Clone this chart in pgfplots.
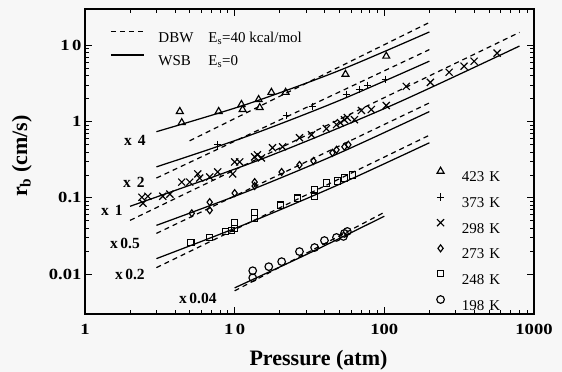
\documentclass[border=0pt]{standalone}
\usepackage{fontspec}
\setmainfont{Liberation Serif}
\newfontfamily\tickfont{Liberation Serif}[FakeStretch=1.2]
\usepackage{pgfplots}
\pgfplotsset{compat=1.18}
\definecolor{bg}{RGB}{247,247,247}
\pgfplotsset{
  ptlegend/.style={legend image code/.code={\draw[##1] plot coordinates {(0bp,5bp)};}},
  lnlegend/.style={legend image code/.code={\draw[##1] (0bp,5bp) -- (33bp,5bp);}},
  wsb/.style={line width=1.25bp, smooth, forget plot},
  dbw/.style={line width=1.2bp, dash pattern=on 5bp off 4bp, forget plot},
}
\begin{document}
\begin{tikzpicture}
\fill[bg] (-85bp,-58bp) rectangle (477bp,314bp);
\path[use as bounding box] (-85bp,-58bp) rectangle (477bp,314bp);
\begin{axis}[
  at={(0,0)}, anchor=south west,
  scale only axis, width=449bp, height=305bp,
  xmode=log, ymode=log,
  xmin=1, xmax=1000, ymin=0.003, ymax=30,
  xtick={1,10,100,1000}, xticklabels={1,1\,0,100,1000},
  ytick={0.01,0.1,1,10}, yticklabels={0.01,0.1,1,1\,0},
  /pgf/number format/assume math mode=true,
  tick label style={font=\tickfont\bfseries\fontsize{15.5bp}{18bp}\selectfont},
  xticklabel style={yshift=-7bp},
  major tick length=7bp, minor tick length=4bp,
  every tick/.style={black, line width=0.8bp},
  axis line style={line width=1.4bp},
  xlabel={Pressure (atm)}, ylabel={r\textsubscript{b} (cm/s)},
  label style={font=\bfseries\fontsize{22bp}{26bp}\selectfont},
  xlabel style={at={(axis description cs:0.52,0)}, anchor=base, yshift=-51bp},
  ylabel style={at={(axis description cs:-0.129,0.518)}, anchor=base},
  legend cell align=left,
  legend style={draw=none, fill=none, inner sep=0pt, at={(0.783,0.482)}, anchor=north west,
    nodes={inner sep=0pt, text height=11bp, text depth=0bp, font=\fontsize{15bp}{18bp}\selectfont},
    row sep=11.6bp, column sep=17.6bp},
]
% WSB (solid)
\addplot[wsb] coordinates {(3,0.738) (12.16,1.70) (49.3,4.63) (200,15.0)};
\addplot[wsb] coordinates {(3,0.255) (12.16,0.644) (49.3,1.87) (200,6.21)};
\addplot[wsb] coordinates {(2,0.0776) (14.7,0.316) (108.6,1.59) (800,9.80)};
\addplot[wsb] coordinates {(3,0.0436) (12.16,0.1216) (49.3,0.382) (200,1.355)};
\addplot[wsb] coordinates {(3,0.01596) (12.16,0.0463) (49.3,0.1486) (200,0.528)};
\addplot[wsb] coordinates {(10,0.00661) (31.6,0.0189) (100,0.0575)};
% DBW (dashed)
\addplot[dbw] coordinates {(5,0.56) (200,20.0)};
\addplot[dbw] coordinates {(3,0.182) (200,8.80)};
\addplot[dbw] coordinates {(2,0.0507) (800,14.8)};
\addplot[dbw] coordinates {(3,0.0342) (200,1.76)};
\addplot[dbw] coordinates {(3,0.01216) (200,0.664)};
\addplot[dbw] coordinates {(10,0.00604) (100,0.0647)};
% data
\addplot[only marks, mark=triangle, mark size=4bp, mark options={line width=1.15bp}, ptlegend] coordinates {
(4.30,1.36) (4.43,0.97) (7.82,1.36) (11.1,1.68) (11.3,1.44) (14.45,1.95) (14.7,1.53) (17.6,2.42) (21.9,2.42) (55.0,4.18) (103,7.22)};
\addlegendentry{423\hspace{5bp}K}
\addplot[only marks, mark=+, mark size=3.8bp, mark options={line width=1.15bp}, ptlegend] coordinates {
(7.7,0.497) (22.2,1.20) (33.1,1.58) (55.8,2.27) (68.1,2.65) (77.0,2.99) (101.6,3.59)};
\addlegendentry{373\hspace{5bp}K}
\addplot[only marks, mark=x, mark size=5bp, mark options={line width=1.15bp}, ptlegend] coordinates {
(2.40,0.102) (2.44,0.0851) (2.63,0.105) (3.31,0.105) (3.69,0.112) (4.43,0.161) (5.01,0.161) (5.67,0.206) (5.84,0.182) (6.81,0.188) (7.70,0.219) (9.70,0.206) (10.0,0.296) (10.8,0.296) (13.6,0.345) (14.2,0.367) (15.1,0.334) (17.9,0.454) (20.9,0.468) (27.1,0.615) (32.6,0.673) (41.0,0.808) (47.9,0.913) (50.9,0.970) (54.1,1.06) (56.6,1.13) (63.1,1.06) (70.3,1.40) (81.9,1.44) (103,1.63) (140,2.90) (203,3.27) (271,4.44) (341,5.33) (398,6.20) (567,7.91)};
\addlegendentry{298\hspace{5bp}K}
\addplot[only marks, mark=diamond, mark size=3.5bp, mark options={line width=1.15bp}, ptlegend] coordinates {
(5.17,0.0628) (6.81,0.0878) (6.81,0.0688) (10.0,0.1154) (13.6,0.161) (13.6,0.143) (20.6,0.2185) (27.1,0.270) (33.6,0.305) (45.0,0.390) (47.9,0.427) (54.1,0.468) (57.5,0.497)};
\addlegendentry{273\hspace{5bp}K}
\addplot[only marks, mark=square, mark size=3.2bp, mark options={line width=1.15bp}, ptlegend] coordinates {
(5.09,0.0260) (6.81,0.0303) (8.71,0.0363) (9.55,0.0374) (10.0,0.0478) (10.0,0.0398) (13.6,0.0647) (13.6,0.0539) (20.3,0.0801) (26.3,0.0991) (34.2,0.1264) (34.2,0.1053) (41.0,0.1564) (48.6,0.1663) (54.1,0.182) (61.2,0.1995)};
\addlegendentry{248\hspace{5bp}K}
\addplot[only marks, mark=o, mark size=3.8bp, mark options={line width=1.15bp}, ptlegend] coordinates {
(13.2,0.01109) (13.2,0.00896) (16.9,0.01253) (20.6,0.01459) (27.1,0.01977) (34.2,0.02233) (39.8,0.0276) (47.9,0.0303) (53.3,0.0312) (54.1,0.0342) (56.6,0.0363)};
\addlegendentry{198\hspace{5bp}K}
% scale factor labels
\node[font=\bfseries\fontsize{15.5bp}{18bp}\selectfont] at (axis cs:2.154,0.561) {x\hspace{6bp}4};
\node[font=\bfseries\fontsize{15.5bp}{18bp}\selectfont] at (axis cs:2.12,0.161) {x\hspace{6bp}2};
\node[font=\bfseries\fontsize{15.5bp}{18bp}\selectfont] at (axis cs:1.513,0.0688) {x\hspace{6bp}1};
\node[font=\bfseries\fontsize{15.5bp}{18bp}\selectfont] at (axis cs:1.848,0.0252) {x\,0.5};
\node[font=\bfseries\fontsize{15.5bp}{18bp}\selectfont] at (axis cs:1.995,0.00982) {x\,0.2};
\node[font=\bfseries\fontsize{15.5bp}{18bp}\selectfont] at (axis cs:5.67,0.00473) {x\,0.04};
\end{axis}
\begin{axis}[
  at={(0,0)}, anchor=south west,
  scale only axis, width=449bp, height=305bp,
  hide axis, xmin=0, xmax=1, ymin=0, ymax=1,
  legend cell align=left,
  legend style={draw=none, fill=none, inner sep=0pt, at={(0.0557,0.928)}, anchor=north west,
    nodes={inner sep=0pt, text height=11bp, text depth=0bp, font=\fontsize{15bp}{18bp}\selectfont},
    row sep=12bp, column sep=14bp},
]
\addlegendimage{line width=1.2bp, dash pattern=on 5bp off 4bp, lnlegend}
\addlegendentry{\makebox[50bp][l]{DBW}E\textsubscript{s}=40 kcal/mol}
\addlegendimage{line width=1.25bp, lnlegend}
\addlegendentry{\makebox[50bp][l]{WSB}E\textsubscript{s}=0}
\end{axis}
\end{tikzpicture}
\end{document}
